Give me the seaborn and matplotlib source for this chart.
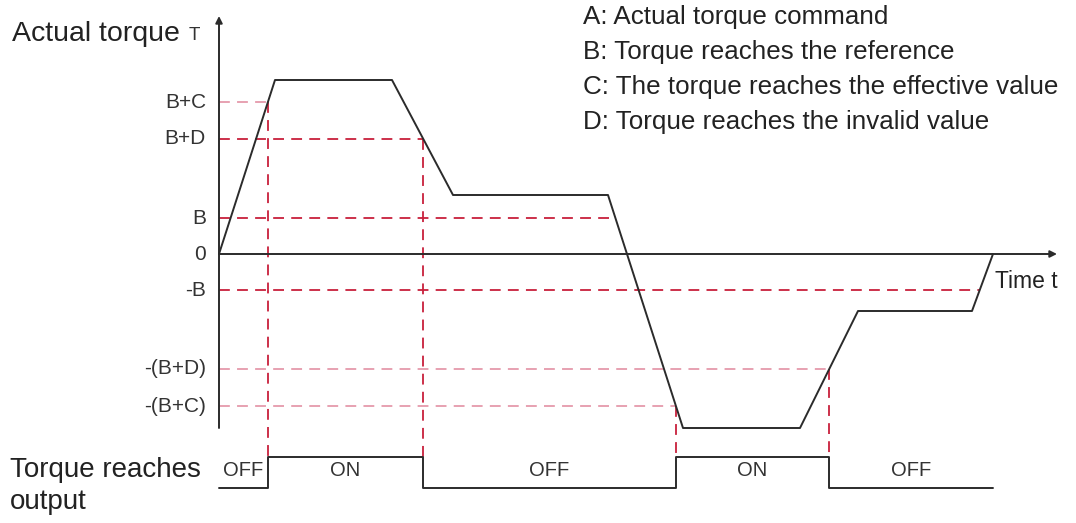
import numpy as np
import pandas as pd
import matplotlib
matplotlib.use("Agg")
import matplotlib.pyplot as plt
import seaborn as sns

sns.set_theme(style="white")
plt.rcParams["font.family"] = ["Liberation Sans", "DejaVu Sans"]

# Actual torque profile (time, torque) in arbitrary units
time_pts = [0.0, 5.6, 17.3, 23.4, 38.9, 46.4, 58.1, 63.9, 75.3, 77.4]
torque_pts = [0.0, 17.4, 17.4, 5.9, 5.9, -17.4, -17.4, -5.7, -5.7, 0.0]

# Threshold levels
B = 3.6
B_plus_D = 11.5
B_plus_C = 15.2
level_values = [B_plus_C, B_plus_D, B, 0.0, -B, -B_plus_D, -B_plus_C]
level_labels = ["B+C", "B+D", "B", "0", "-B", "-(B+D)", "-(B+C)"]

legend_lines = [
    "A: Actual torque command",
    "B: Torque reaches the reference",
    "C: The torque reaches the effective value",
    "D: Torque reaches the invalid value",
]
state_labels = ["OFF", "ON", "OFF", "ON", "OFF"]

df = pd.DataFrame({"time": time_pts, "torque": torque_pts})

fig = plt.figure(figsize=(10.76, 5.23), dpi=100)
ax = fig.add_axes([0, 0, 1, 1])
ax.set_xlim(-21.9, 85.7)
ax.set_ylim(-26.9, 25.4)
ax.axis("off")

ink = "#2b2b2b"
red = "#c8203c"
pink = "#e59aab"


def crossing(level, seg_start, seg_end):
    """Time at which the segment between two profile points passes a level."""
    t0, t1 = time_pts[seg_start], time_pts[seg_end]
    y0, y1 = torque_pts[seg_start], torque_pts[seg_end]
    return t0 + (level - y0) / (y1 - y0) * (t1 - t0)


t_on1 = crossing(B_plus_C, 0, 1)
t_off1 = crossing(B_plus_D, 2, 3)
t_B = crossing(B, 4, 5)
t_on2 = crossing(-B_plus_C, 4, 5)
t_off2 = crossing(-B_plus_D, 6, 7)
t_negB = crossing(-B, 8, 9)

# Horizontal dashed threshold lines
dash = dict(lw=1.3, dashes=(6, 4))
ax.plot([0, t_on1], [B_plus_C, B_plus_C], color=pink, **dash)
ax.plot([0, t_off1], [B_plus_D, B_plus_D], color=red, **dash)
ax.plot([0, t_B], [B, B], color=red, **dash)
ax.plot([0, t_negB], [-B, -B], color=red, **dash)
ax.plot([0, t_off2], [-B_plus_D, -B_plus_D], color=pink, **dash)
ax.plot([0, t_on2], [-B_plus_C, -B_plus_C], color=pink, **dash)

# Output signal levels
sig_high, sig_low = -20.3, -23.4

# Vertical dashed switching lines
for t, lv in [(t_on1, B_plus_C), (t_off1, B_plus_D), (t_on2, -B_plus_C), (t_off2, -B_plus_D)]:
    ax.plot([t, t], [lv, sig_high], color=red, **dash)

# Axes with arrows
ax.annotate("", xy=(0, 23.8), xytext=(0, -17.4),
            arrowprops=dict(arrowstyle="-|>", color=ink, lw=1.4,
                            mutation_scale=10, shrinkA=0, shrinkB=0))
ax.annotate("", xy=(83.8, 0), xytext=(0, 0),
            arrowprops=dict(arrowstyle="-|>", color=ink, lw=1.4,
                            mutation_scale=10, shrinkA=0, shrinkB=0))

# Torque curve
sns.lineplot(data=df, x="time", y="torque", sort=False, color=ink, lw=1.4,
             ax=ax, legend=False)

# Output switching signal
sig_t = [0, t_on1, t_on1, t_off1, t_off1, t_on2, t_on2, t_off2, t_off2, time_pts[-1]]
sig_v = [sig_low, sig_low, sig_high, sig_high, sig_low, sig_low, sig_high, sig_high, sig_low, sig_low]
ax.plot(sig_t, sig_v, color=ink, lw=1.4)

edges = [0, t_on1, t_off1, t_on2, t_off2, time_pts[-1]]
for lab, a, b in zip(state_labels, edges[:-1], edges[1:]):
    ax.text((a + b) / 2, (sig_high + sig_low) / 2 + 0.2, lab, ha="center",
            va="center", fontsize=14.5, color="#333333")

# Level labels on the torque axis
for v, lab in zip(level_values, level_labels):
    ax.text(-1.3, v, lab, ha="right", va="center", fontsize=15, color="#333333")

# Axis titles
ax.text(-20.7, 22.0, "Actual torque", ha="left", va="center", fontsize=20.5, color="#222222")
ax.text(-1.9, 21.8, "T", ha="right", va="center", fontsize=13.5, color="#333333")
ax.text(77.6, -2.7, "Time t", ha="left", va="center", fontsize=16.5, color="#222222")
ax.text(-20.9, -21.6, "Torque reaches", ha="left", va="center", fontsize=20, color="#222222")
ax.text(-20.9, -24.8, "output", ha="left", va="center", fontsize=20, color="#222222")

# Legend text block
for i, line in enumerate(legend_lines):
    ax.text(36.4, 23.7 - i * 3.5, line, ha="left", va="center",
            fontsize=18.7, color="#222222")

fig.savefig("out.png", dpi=100)
